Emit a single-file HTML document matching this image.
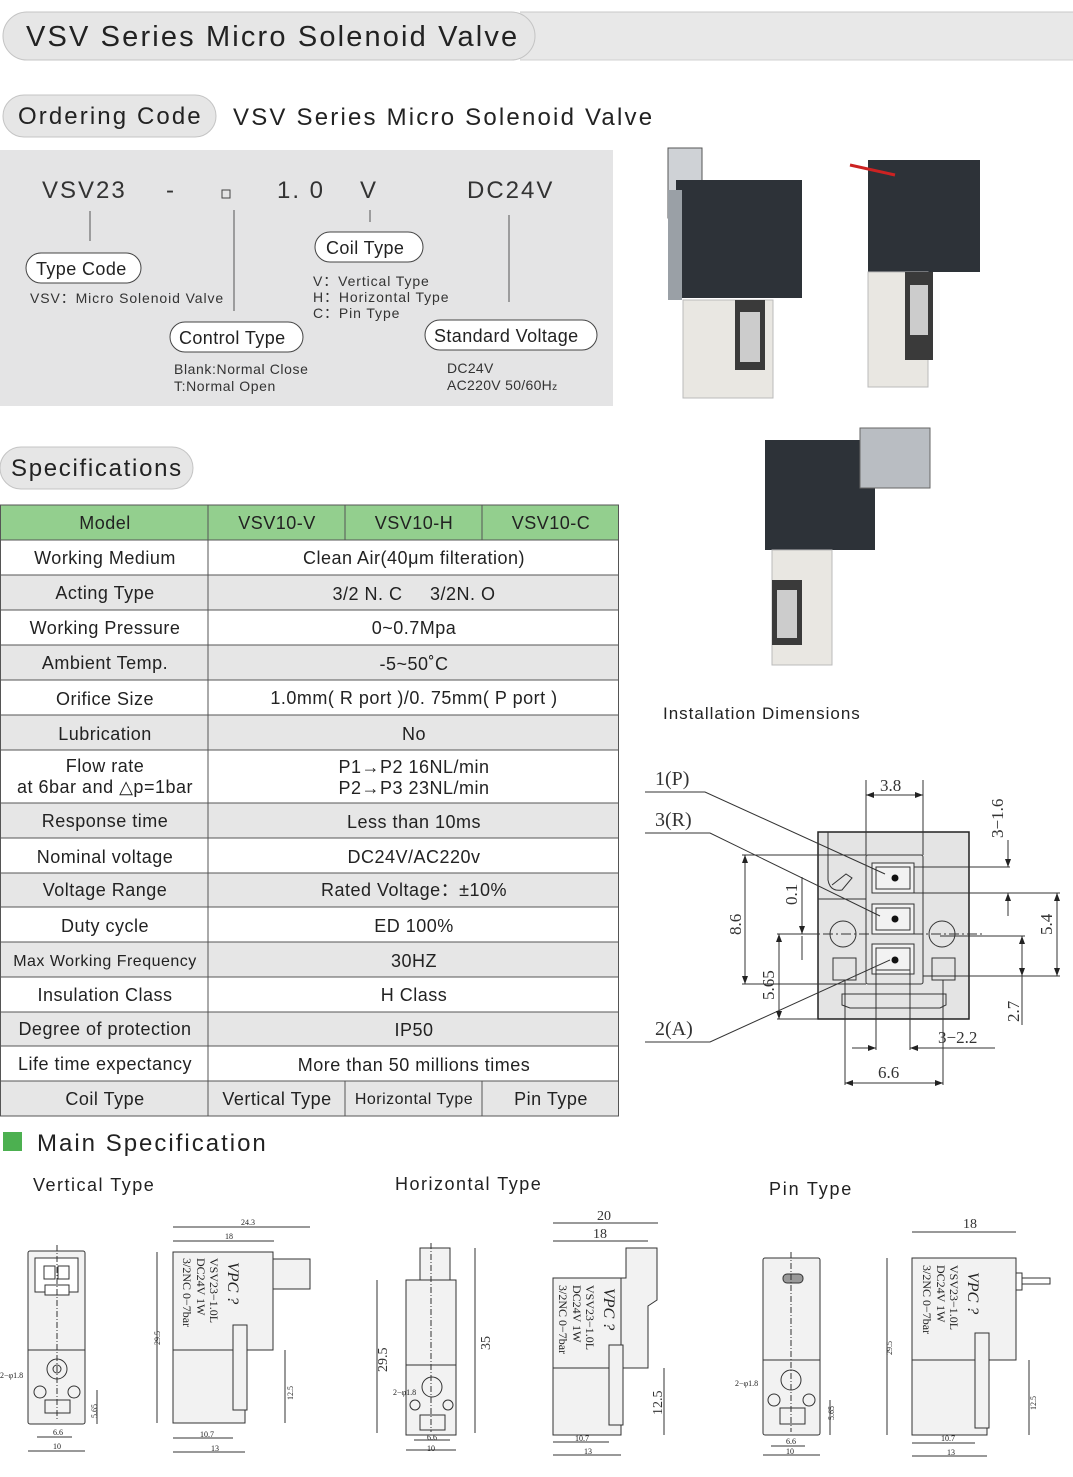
<!DOCTYPE html>
<html><head><meta charset="utf-8"><style>
html,body{margin:0;padding:0;background:#fff;}
svg{display:block;font-family:"Liberation Sans",sans-serif;}
</style></head><body>
<svg width="1073" height="1477" viewBox="0 0 1073 1477" xmlns="http://www.w3.org/2000/svg">
<defs>
<marker id="ar" markerWidth="8" markerHeight="6" refX="8" refY="3" orient="auto-start-reverse"><path d="M0,0 L8,3 L0,6 z" fill="#222"/></marker>
</defs>
<!-- header -->
<rect x="520" y="12" width="560" height="48" fill="#e8e8e8"/>
<line x1="520" y1="12" x2="1073" y2="12" stroke="#c8c8c8"/>
<line x1="520" y1="60" x2="1073" y2="60" stroke="#d0d0d0"/>
<rect x="3" y="12" width="532" height="48" rx="24" fill="#e6e6e6" stroke="#c4c4c4"/>
<text x="26" y="46" font-size="29" letter-spacing="2.15" fill="#222">VSV Series Micro Solenoid Valve</text>

<rect x="3" y="95" width="213" height="42" rx="21" fill="#e6e6e6" stroke="#c4c4c4"/>
<text x="18" y="124" font-size="24" letter-spacing="2.1" fill="#222">Ordering Code</text>
<text x="233" y="125" font-size="24" letter-spacing="2.2" fill="#222">VSV Series Micro Solenoid Valve</text>

<!-- ordering code box -->
<rect x="0" y="150" width="613" height="256" fill="#e4e4e5"/>
<g font-size="24" fill="#333" letter-spacing="2">
<text x="42" y="198">VSV23</text><text x="166" y="198">-</text>
<text x="277" y="198">1. 0</text><text x="360" y="198">V</text><text x="467" y="198">DC24V</text>
</g>
<rect x="222" y="190" width="8" height="8" fill="none" stroke="#444"/>
<g stroke="#555" stroke-width="1">
<line x1="90" y1="211" x2="90" y2="241"/><line x1="234" y1="210" x2="234" y2="311"/>
<line x1="370" y1="210" x2="370" y2="222"/><line x1="509" y1="215" x2="509" y2="302"/>
</g>
<g fill="#fff" stroke="#444">
<rect x="26" y="253" width="115" height="30" rx="15"/>
<rect x="315" y="232" width="108" height="30" rx="15"/>
<rect x="170" y="322" width="133" height="30" rx="15"/>
<rect x="425" y="320" width="172" height="30" rx="15"/>
</g>
<g font-size="18" fill="#222" letter-spacing="0.4">
<text x="36" y="275">Type Code</text><text x="326" y="254">Coil Type</text>
<text x="179" y="344">Control Type</text><text x="434" y="342">Standard Voltage</text>
</g>
<g font-size="14" fill="#333" letter-spacing="0.9">
<text x="30" y="303">VSV：Micro Solenoid Valve</text>
<text x="313" y="286">V：Vertical Type</text><text x="313" y="302">H：Horizontal Type</text><text x="313" y="318">C：Pin Type</text>
<text x="174" y="374" letter-spacing="0.6">Blank:Normal Close</text><text x="174" y="391" letter-spacing="0.6">T:Normal Open</text>
<text x="447" y="373" letter-spacing="0.3">DC24V</text><text x="447" y="390" letter-spacing="0.3">AC220V 50/60H<tspan font-size="10">z</tspan></text>
</g>

<!-- product photos approximations -->
<g>
<rect x="668" y="148" width="34" height="70" fill="#cfd2d6" stroke="#555"/>
<rect x="676" y="180" width="126" height="118" fill="#2d3238"/>
<rect x="668" y="190" width="14" height="110" fill="#9aa0a6"/>
<rect x="683" y="300" width="90" height="98" fill="#e9e7e2" stroke="#bbb"/>
<rect x="735" y="300" width="30" height="70" fill="#3a3a3a"/>
<rect x="740" y="312" width="20" height="50" fill="#ccc"/>
<rect x="868" y="160" width="112" height="112" fill="#2d3238"/>
<line x1="850" y1="165" x2="895" y2="175" stroke="#c22" stroke-width="3"/>
<rect x="868" y="272" width="60" height="115" fill="#e9e7e2" stroke="#bbb"/>
<rect x="905" y="272" width="28" height="88" fill="#3a3a3a"/>
<rect x="910" y="285" width="18" height="50" fill="#ccc"/>
<rect x="765" y="440" width="110" height="110" fill="#2d3238"/>
<rect x="860" y="428" width="70" height="60" fill="#b9bdc2" stroke="#666"/>
<rect x="772" y="550" width="60" height="115" fill="#e9e7e2" stroke="#bbb"/>
<rect x="772" y="580" width="30" height="65" fill="#3a3a3a"/>
<rect x="777" y="590" width="20" height="48" fill="#ccc"/>
</g>

<!-- Specifications -->
<rect x="0" y="447" width="193" height="42" rx="21" fill="#e6e6e6" stroke="#c4c4c4"/>
<text x="11" y="476" font-size="24" letter-spacing="1.7" fill="#222">Specifications</text>

<g>
<rect x="0" y="505" width="619" height="35" fill="#93cf8e"/>
<g fill="#e6e6e6">
<rect x="0" y="575" width="619" height="35"/><rect x="0" y="645" width="619" height="35"/>
<rect x="0" y="715" width="619" height="35"/><rect x="0" y="803" width="619" height="35"/>
<rect x="0" y="873" width="619" height="34"/><rect x="0" y="942" width="619" height="35"/>
<rect x="0" y="1012" width="619" height="34"/><rect x="0" y="1081" width="619" height="35"/>
</g>
<g stroke="#555" stroke-width="1">
<line x1="0" y1="505" x2="619" y2="505"/><line x1="0" y1="540" x2="619" y2="540"/>
<line x1="0" y1="575" x2="619" y2="575"/><line x1="0" y1="610" x2="619" y2="610"/>
<line x1="0" y1="645" x2="619" y2="645"/><line x1="0" y1="680" x2="619" y2="680"/>
<line x1="0" y1="715" x2="619" y2="715"/><line x1="0" y1="750" x2="619" y2="750"/>
<line x1="0" y1="803" x2="619" y2="803"/><line x1="0" y1="838" x2="619" y2="838"/>
<line x1="0" y1="873" x2="619" y2="873"/><line x1="0" y1="907" x2="619" y2="907"/>
<line x1="0" y1="942" x2="619" y2="942"/><line x1="0" y1="977" x2="619" y2="977"/>
<line x1="0" y1="1012" x2="619" y2="1012"/><line x1="0" y1="1046" x2="619" y2="1046"/>
<line x1="0" y1="1081" x2="619" y2="1081"/><line x1="0" y1="1116" x2="619" y2="1116"/>
<line x1="0.5" y1="505" x2="0.5" y2="1116"/><line x1="618.5" y1="505" x2="618.5" y2="1116"/>
<line x1="208" y1="505" x2="208" y2="1116"/>
<line x1="345" y1="505" x2="345" y2="540"/><line x1="482" y1="505" x2="482" y2="540"/>
<line x1="345" y1="1081" x2="345" y2="1116"/><line x1="482" y1="1081" x2="482" y2="1116"/>
</g>
<g font-size="18" fill="#222" text-anchor="middle" letter-spacing="0.5">
<text x="105" y="529">Model</text><text x="277" y="529">VSV10-V</text><text x="414" y="529">VSV10-H</text><text x="551" y="529">VSV10-C</text>
<text x="105" y="564">Working Medium</text><text x="414" y="564">Clean Air(40μm filteration)</text>
<text x="105" y="599">Acting Type</text><text x="414" y="600">3/2 N. C &#160;&#160;&#160; 3/2N. O</text>
<text x="105" y="634">Working Pressure</text><text x="414" y="634">0~0.7Mpa</text>
<text x="105" y="669">Ambient Temp.</text><text x="414" y="670">-5~50˚C</text>
<text x="105" y="705">Orifice Size</text><text x="414" y="704">1.0mm( R port )/0. 75mm( P port )</text>
<text x="105" y="740">Lubrication</text><text x="414" y="740">No</text>
<text x="105" y="772">Flow rate</text><text x="105" y="793">at 6bar and △p=1bar</text>
<text x="414" y="773">P1→P2 16NL/min</text><text x="414" y="794">P2→P3 23NL/min</text>
<text x="105" y="827">Response time</text><text x="414" y="828">Less than 10ms</text>
<text x="105" y="863">Nominal voltage</text><text x="414" y="863">DC24V/AC220v</text>
<text x="105" y="896">Voltage Range</text><text x="414" y="896">Rated Voltage：±10%</text>
<text x="105" y="932">Duty cycle</text><text x="414" y="932">ED 100%</text>
<text x="105" y="966" font-size="16">Max Working Frequency</text><text x="414" y="967">30HZ</text>
<text x="105" y="1001">Insulation Class</text><text x="414" y="1001">H Class</text>
<text x="105" y="1035">Degree of protection</text><text x="414" y="1036">IP50</text>
<text x="105" y="1070">Life time expectancy</text><text x="414" y="1071">More than 50 millions times</text>
<text x="105" y="1105">Coil Type</text><text x="277" y="1105">Vertical Type</text><text x="414" y="1104" font-size="16">Horizontal Type</text><text x="551" y="1105">Pin Type</text>
</g>
</g>

<!-- Installation dimensions -->
<text x="663" y="719" font-size="17" letter-spacing="1" fill="#222">Installation Dimensions</text>
<g font-family="Liberation Serif,serif" font-size="20" fill="#333">
<text x="655" y="785">1(P)</text><text x="655" y="826">3(R)</text><text x="655" y="1035">2(A)</text>
<text x="880" y="791" font-size="17">3.8</text><text x="878" y="1078" font-size="17">6.6</text>
<text x="938" y="1043" font-size="17">3−2.2</text>
<text font-size="17" transform="translate(1003,838) rotate(-90)">3−1.6</text>
<text font-size="17" transform="translate(741,935) rotate(-90)">8.6</text>
<text font-size="17" transform="translate(797,905) rotate(-90)">0.1</text>
<text font-size="17" transform="translate(774,1000) rotate(-90)">5.65</text>
<text font-size="17" transform="translate(1052,935) rotate(-90)">5.4</text>
<text font-size="17" transform="translate(1019,1022) rotate(-90)">2.7</text>
</g>
<g stroke="#333" stroke-width="1" fill="none">
<rect x="818" y="832" width="151" height="187" fill="#e4e4e4" stroke="#222" stroke-width="1.5"/>
<rect x="866" y="855" width="57" height="129" rx="2"/>
<rect x="872" y="863" width="42" height="30" fill="#f2f2f2"/><rect x="876" y="867" width="34" height="22"/>
<rect x="872" y="904" width="42" height="30" fill="#f2f2f2"/><rect x="876" y="908" width="34" height="22"/>
<rect x="872" y="944" width="42" height="30" fill="#f2f2f2"/><rect x="876" y="948" width="34" height="22"/>
<circle cx="843" cy="934" r="13"/><circle cx="942" cy="934" r="13"/>
<rect x="833" y="958" width="23" height="22"/><rect x="932" y="958" width="23" height="22"/>
<path d="M842 994 H946 V1005 L940 1008 H850 L842 1005 Z"/>
<path d="M828 832 V880 Q830 892 842 890 L852 878 L846 874 L832 885"/>
<line x1="818" y1="899" x2="866" y2="899"/>
<line x1="805" y1="934" x2="985" y2="934" stroke-dasharray="10,3,2,3"/>
<path d="M645 792 H705 L885 874"/><path d="M645 833 H710 L880 916"/>
<path d="M645 1042 H710 L890 960"/>
<line x1="866" y1="780" x2="866" y2="855"/><line x1="923" y1="780" x2="923" y2="855"/>
<line x1="866" y1="795" x2="923" y2="795" marker-start="url(#ar)" marker-end="url(#ar)"/>
<line x1="742" y1="855" x2="866" y2="855"/><line x1="742" y1="984" x2="866" y2="984"/>
<line x1="745" y1="855" x2="745" y2="984" marker-start="url(#ar)" marker-end="url(#ar)"/>
<line x1="777" y1="934" x2="818" y2="934"/><line x1="777" y1="1019" x2="818" y2="1019"/>
<line x1="779" y1="934" x2="779" y2="1019" marker-start="url(#ar)" marker-end="url(#ar)"/>
<line x1="802" y1="877" x2="802" y2="934" marker-end="url(#ar)"/><line x1="802" y1="936" x2="802" y2="960"/>
<line x1="914" y1="867" x2="1010" y2="867"/><line x1="914" y1="893" x2="1060" y2="893"/>
<line x1="1008" y1="840" x2="1008" y2="867" marker-end="url(#ar)"/><line x1="1008" y1="893" x2="1008" y2="916" marker-start="url(#ar)"/>
<line x1="923" y1="976" x2="1060" y2="976"/>
<line x1="1057" y1="893" x2="1057" y2="976" marker-start="url(#ar)" marker-end="url(#ar)"/>
<line x1="940" y1="936" x2="1025" y2="936"/>
<line x1="1022" y1="936" x2="1022" y2="976" marker-start="url(#ar)" marker-end="url(#ar)"/><line x1="1022" y1="976" x2="1022" y2="1025"/>
<line x1="876" y1="970" x2="876" y2="1050"/><line x1="910" y1="970" x2="910" y2="1050"/>
<line x1="852" y1="1048" x2="876" y2="1048" marker-end="url(#ar)"/><line x1="910" y1="1048" x2="995" y2="1048" marker-start="url(#ar)"/>
<line x1="845" y1="980" x2="845" y2="1085"/><line x1="943" y1="980" x2="943" y2="1085"/>
<line x1="845" y1="1083" x2="943" y2="1083" marker-start="url(#ar)" marker-end="url(#ar)"/>
</g>
<g fill="#111"><circle cx="895" cy="878" r="3.5"/><circle cx="895" cy="919" r="3.5"/><circle cx="895" cy="960" r="3.5"/></g>

<!-- Main specification -->
<rect x="3" y="1132" width="19" height="19" fill="#4cb050"/>
<text x="37" y="1151" font-size="24" letter-spacing="2" fill="#222">Main Specification</text>
<g font-size="18" fill="#222" letter-spacing="1.5">
<text x="33" y="1191">Vertical Type</text><text x="395" y="1190">Horizontal Type</text><text x="769" y="1195" letter-spacing="1.8">Pin Type</text>
</g>

<g stroke="#333" stroke-width="1" fill="#f2f2f2">
<!-- vertical front -->
<rect x="28" y="1251" width="57" height="173" rx="2"/>
<line x1="28" y1="1350" x2="85" y2="1350"/>
<rect x="35" y="1258" width="43" height="34" fill="#fff"/>
<rect x="44" y="1266" width="11" height="13" fill="#fff"/><rect x="58" y="1266" width="11" height="13" fill="#fff"/>
<rect x="45" y="1285" width="24" height="10" fill="#fff"/>
<circle cx="57" cy="1369" r="10" fill="none"/><circle cx="57" cy="1369" r="4" fill="none"/>
<circle cx="40" cy="1392" r="6" fill="none"/><circle cx="74" cy="1392" r="6" fill="none"/>
<rect x="45" y="1400" width="25" height="13" fill="none"/>
<line x1="57" y1="1245" x2="57" y2="1420" stroke-dasharray="6,2,1,2"/>
<line x1="37" y1="1437" x2="72" y2="1437"/><line x1="28" y1="1451" x2="85" y2="1451"/>
<line x1="97" y1="1390" x2="97" y2="1424"/>
<!-- vertical side -->
<rect x="173" y="1252" width="100" height="98"/>
<rect x="273" y="1259" width="37" height="30"/>
<rect x="173" y="1350" width="72" height="73"/>
<rect x="233" y="1325" width="14" height="85"/>
<line x1="173" y1="1227" x2="310" y2="1227"/><line x1="173" y1="1241" x2="274" y2="1241"/>
<line x1="157" y1="1252" x2="157" y2="1423"/><line x1="285" y1="1350" x2="285" y2="1423"/>
<line x1="173" y1="1438" x2="233" y2="1438"/><line x1="173" y1="1452" x2="245" y2="1452"/>
<!-- horizontal front -->
<rect x="420" y="1248" width="30" height="32"/>
<rect x="406" y="1280" width="50" height="155"/>
<line x1="406" y1="1365" x2="456" y2="1365"/>
<circle cx="432" cy="1387" r="10" fill="none"/><circle cx="415" cy="1405" r="5" fill="none"/><circle cx="448" cy="1405" r="5" fill="none"/>
<rect x="420" y="1415" width="25" height="15" fill="none"/>
<line x1="431" y1="1243" x2="431" y2="1432" stroke-dasharray="6,2,1,2"/>
<line x1="377" y1="1280" x2="377" y2="1433"/><line x1="475" y1="1248" x2="475" y2="1433"/>
<line x1="414" y1="1440" x2="450" y2="1440"/><line x1="406" y1="1450" x2="456" y2="1450"/>
<!-- horizontal side -->
<rect x="553" y="1278" width="68" height="157"/>
<path d="M626 1248 H657 V1300 L648 1306 V1368 H621 V1278 H626 Z"/>
<line x1="553" y1="1368" x2="621" y2="1368"/>
<rect x="609" y="1345" width="14" height="80"/>
<line x1="553" y1="1223" x2="658" y2="1223"/><line x1="553" y1="1241" x2="648" y2="1241"/>
<line x1="664" y1="1368" x2="664" y2="1435"/>
<line x1="553" y1="1442" x2="609" y2="1442"/><line x1="553" y1="1455" x2="621" y2="1455"/>
<!-- pin front -->
<rect x="763" y="1258" width="57" height="177" rx="2"/>
<line x1="763" y1="1360" x2="820" y2="1360"/>
<rect x="783" y="1274" width="20" height="9" rx="4" fill="#999"/>
<circle cx="791" cy="1380" r="10" fill="none"/><circle cx="774" cy="1400" r="6" fill="none"/><circle cx="809" cy="1400" r="6" fill="none"/>
<rect x="780" y="1408" width="25" height="16" fill="none"/>
<line x1="791" y1="1252" x2="791" y2="1432" stroke-dasharray="6,2,1,2"/>
<line x1="771" y1="1446" x2="805" y2="1446"/><line x1="763" y1="1455" x2="820" y2="1455"/>
<line x1="830" y1="1400" x2="830" y2="1435"/>
<!-- pin side -->
<rect x="912" y="1258" width="104" height="102"/>
<rect x="912" y="1360" width="75" height="75"/>
<rect x="975" y="1333" width="14" height="95"/>
<path d="M1016 1273 H1022 V1290 H1016 M1022 1278 H1050 V1284 H1022" fill="none"/>
<line x1="912" y1="1232" x2="1016" y2="1232"/>
<line x1="887" y1="1258" x2="887" y2="1435"/><line x1="1029" y1="1360" x2="1029" y2="1435"/>
<line x1="912" y1="1443" x2="975" y2="1443"/><line x1="912" y1="1456" x2="987" y2="1456"/>
</g>
<g font-size="8" fill="#222" font-family="Liberation Serif,serif">
<text x="241" y="1225">24.3</text><text x="225" y="1239">18</text><text x="200" y="1437">10.7</text><text x="211" y="1451">13</text>
<text transform="translate(160,1345) rotate(-90)">29.5</text><text transform="translate(293,1400) rotate(-90)">12.5</text>
<text x="53" y="1435">6.6</text><text x="53" y="1449">10</text><text x="0" y="1378">2−φ1.8</text>
<text transform="translate(97,1418) rotate(-90)">5.65</text>
<text x="393" y="1395">2−φ1.8</text><text x="427" y="1440">6.6</text><text x="427" y="1451">10</text>
<text x="575" y="1441">10.7</text><text x="584" y="1454">13</text>
<text x="735" y="1386">2−φ1.8</text><text x="786" y="1444">6.6</text><text x="786" y="1454">10</text>
<text transform="translate(834,1420) rotate(-90)">5.65</text>
<text x="941" y="1441">10.7</text><text x="947" y="1455">13</text>
<text transform="translate(892,1355) rotate(-90)">29.5</text><text transform="translate(1036,1410) rotate(-90)">12.5</text>
</g>
<g font-size="14" fill="#333" font-family="Liberation Serif,serif">
<text x="597" y="1220">20</text><text x="593" y="1238">18</text><text x="963" y="1228">18</text>
<text transform="translate(387,1372) rotate(-90)">29.5</text><text transform="translate(490,1350) rotate(-90)">35</text>
<text transform="translate(662,1415) rotate(-90)">12.5</text>
</g>
<g font-family="Liberation Serif,serif" font-size="12" fill="#222">
<g transform="translate(228,1262) rotate(90)"><text font-style="italic" font-size="16">VPC ?</text></g>
<g transform="translate(210,1258) rotate(90)"><text>VSV23−1.0L</text></g>
<g transform="translate(197,1258) rotate(90)"><text>DC24V  1W</text></g>
<g transform="translate(183,1258) rotate(90)"><text>3/2NC 0−7bar</text></g>
<g transform="translate(604,1288) rotate(90)"><text font-style="italic" font-size="16">VPC ?</text></g>
<g transform="translate(586,1285) rotate(90)"><text>VSV23−1.0L</text></g>
<g transform="translate(573,1285) rotate(90)"><text>DC24V  1W</text></g>
<g transform="translate(559,1285) rotate(90)"><text>3/2NC 0−7bar</text></g>
<g transform="translate(968,1272) rotate(90)"><text font-style="italic" font-size="16">VPC ?</text></g>
<g transform="translate(950,1265) rotate(90)"><text>VSV23−1.0L</text></g>
<g transform="translate(937,1265) rotate(90)"><text>DC24V  1W</text></g>
<g transform="translate(923,1265) rotate(90)"><text>3/2NC 0−7bar</text></g>
</g>
</svg>
</body></html>
